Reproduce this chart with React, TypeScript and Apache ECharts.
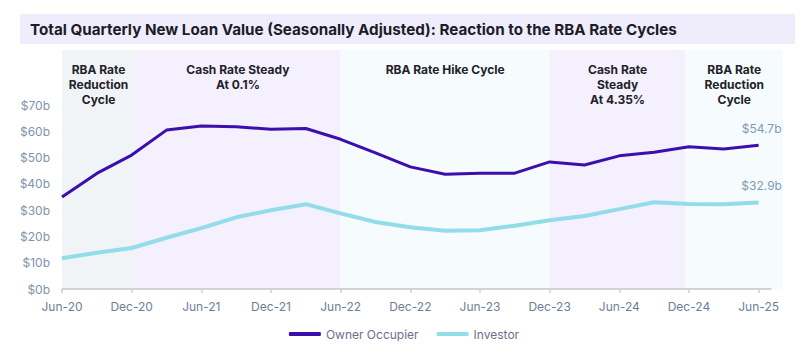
import React, { useEffect, useRef } from "react";
import * as echarts from "echarts";

const quarters = [
  "Jun-20", "Sep-20", "Dec-20", "Mar-21", "Jun-21", "Sep-21", "Dec-21", "Mar-22",
  "Jun-22", "Sep-22", "Dec-22", "Mar-23", "Jun-23", "Sep-23", "Dec-23", "Mar-24",
  "Jun-24", "Sep-24", "Dec-24", "Mar-25", "Jun-25",
];
const ownerOccupier = [
  35, 44, 51, 60.5, 62.1, 61.8, 60.8, 61.1, 57, 51.8, 46.5, 43.7, 44.1, 44.1,
  48.4, 47.2, 50.7, 52.1, 54.2, 53.3, 54.7,
];
const investor = [
  11.7, 13.8, 15.6, 19.5, 23.2, 27.3, 30, 32.3, 28.8, 25.5, 23.5, 22.2, 22.4,
  24.1, 26.2, 27.8, 30.4, 33, 32.4, 32.3, 32.9,
];
const yTicks = [0, 10, 20, 30, 40, 50, 60, 70];
// rate cycle periods, as positions on the quarter scale
const cycleNames = [
  "RBA Rate\nReduction\nCycle",
  "Cash Rate Steady\nAt 0.1%",
  "RBA Rate Hike Cycle",
  "Cash Rate\nSteady\nAt 4.35%",
  "RBA Rate\nReduction\nCycle",
];
const cycleStart = [0, 2.1, 8, 14, 17.9];
const cycleEnd = [2.1, 8, 14, 17.9, 20.7];
const cycleColors = ["#f1f4f7", "#f4f0fd", "#f6fbfe", "#f4f0fd", "#f6fbfe"];

const FONT = "Inter, 'Noto Sans', sans-serif";

export default function App() {
  const ref = useRef<HTMLDivElement>(null);
  useEffect(() => {
    if (!ref.current) return;
    const chart = echarts.init(ref.current, null, { renderer: "svg" });
    const last = quarters.length - 1;
    const mkData = (arr: number[]) =>
      arr.map((v, i) =>
        i === last
          ? {
              value: [i, v],
              label: {
                show: true,
                position: "top",
                distance: 11,
                formatter: () => `$${v.toFixed(1)}b`,
                color: "#7e9bb4",
                fontSize: 12,
                fontFamily: FONT,
                offset: [3, 0],
              },
            }
          : { value: [i, v] }
      );
    const evenIdx = quarters.map((_, i) => i).filter((i) => i % 2 === 0);
    chart.setOption({
      animation: false,
      backgroundColor: "#ffffff",
      textStyle: { fontFamily: FONT },
      graphic: [
        {
          type: "rect",
          shape: { x: 20, y: 14, width: 775, height: 30 },
          style: { fill: "#efedfb" },
          z: 0,
        },
        {
          type: "text",
          x: 30,
          y: 29,
          style: {
            text: "Total Quarterly New Loan Value (Seasonally Adjusted): Reaction to the RBA Rate Cycles",
            fill: "#1c1c28",
            font: `700 15.2px ${FONT}`,
            textVerticalAlign: "middle",
          },
          z: 1,
        },
      ],
      grid: { left: 62, right: 25, top: 50, bottom: 62 },
      legend: {
        bottom: 6,
        left: "center",
        itemWidth: 32,
        itemHeight: 4,
        itemGap: 18,
        icon: "roundRect",
        textStyle: { color: "#6c6f8a", fontSize: 12, fontFamily: FONT },
        data: ["Owner Occupier", "Investor"],
      },
      xAxis: {
        type: "value",
        min: 0,
        max: 20.7,
        interval: 2,
        splitLine: { show: false },
        axisLine: { show: false },
        axisTick: {
          show: true,
          length: 4,
          lineStyle: { color: "#cfcfd4", width: 1.5 },
          customValues: evenIdx,
        },
        axisLabel: {
          customValues: evenIdx,
          margin: 11,
          color: "#6e7e98",
          fontSize: 12,
          fontFamily: FONT,
          formatter: (v: number) => (Number.isInteger(v) ? quarters[v] ?? "" : ""),
        },
      },
      yAxis: {
        type: "value",
        min: 0,
        max: 91,
        interval: 10,
        splitLine: { show: false },
        axisLine: { show: false },
        axisTick: { show: false },
        axisLabel: {
          margin: 12,
          color: "#8293ad",
          fontSize: 12,
          fontFamily: FONT,
          customValues: yTicks,
          formatter: (v: number) => (yTicks.includes(v) ? `$${v}b` : ""),
        },
      },
      series: [
        {
          name: "Owner Occupier",
          type: "line",
          data: mkData(ownerOccupier),
          symbol: "circle",
          symbolSize: 0,
          showSymbol: true,
          clip: false,
          color: "#3b0fae",
          lineStyle: { width: 3, color: "#3b0fae" },
          z: 3,
          markArea: {
            silent: true,
            data: cycleNames.map((name, i) => [
              {
                name,
                xAxis: cycleStart[i],
                yAxis: 91,
                itemStyle: { color: cycleColors[i] },
              },
              { xAxis: cycleEnd[i], yAxis: 0 },
            ]),
            label: {
              show: true,
              position: "insideTop",
              distance: 12,
              color: "#222228",
              fontWeight: 700,
              fontSize: 12,
              lineHeight: 15,
              fontFamily: FONT,
              align: "center",
            },
          },
          markLine: {
            silent: true,
            symbol: ["none", "none"],
            label: { show: false },
            lineStyle: { color: "#d2d2d6", width: 2, type: "solid" },
            data: [[{ coord: [0, 0] }, { coord: [20.37, 0] }]],
          },
        },
        {
          name: "Investor",
          type: "line",
          data: mkData(investor),
          symbol: "circle",
          symbolSize: 0,
          showSymbol: true,
          clip: false,
          color: "#93dce9",
          lineStyle: { width: 4, color: "#93dce9" },
          z: 2,
        },
      ],
    });
    return () => chart.dispose();
  }, []);
  return (
    <div
      ref={ref}
      style={{ position: "fixed", left: 0, top: 0, width: 808, height: 351 }}
    />
  );
}
